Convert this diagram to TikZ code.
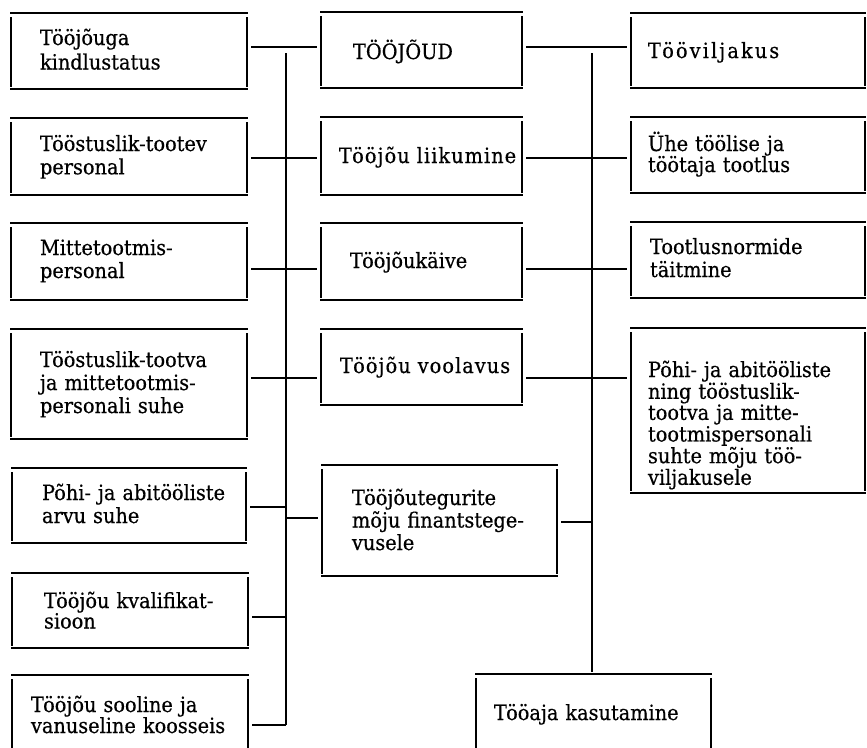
\documentclass[tikz,border=0pt]{standalone}
\usepackage{fontspec}
\setmainfont{DejaVu Serif}[FakeStretch=0.92,WordSpace=1.8,FakeBold=0.5]
\usetikzlibrary{fit}
\tikzset{
  conn/.style={line width=1.3pt, shorten <=4pt, shorten >=4pt},
  bus/.style={line width=1.3pt},
  box/.style={inner sep=0pt, outer sep=0pt, append after command={
     ([xshift=-1pt]\tikzlastnode.north west) edge[line width=#1] ([xshift=1pt]\tikzlastnode.north east)
     ([xshift=-1pt]\tikzlastnode.south west) edge[line width=#1] ([xshift=1pt]\tikzlastnode.south east)
     ([yshift=-4pt]\tikzlastnode.north west) edge[line width=#1] ([yshift=2pt]\tikzlastnode.south west)
     ([yshift=-4pt]\tikzlastnode.north east) edge[line width=#1] ([yshift=2pt]\tikzlastnode.south east)
  }},
  box/.default=1.3pt,
  txt/.style={anchor=base west, inner sep=0pt, outer sep=0pt, text width=220pt, align=left,
     font=\fontsize{21}{#1}\selectfont},
  txt/.default=21,
  spaced/.style={font=\fontsize{21}{21}\selectfont\addfontfeature{LetterSpace=#1}}
}
\begin{document}
\begin{tikzpicture}[x=1pt,y=-1pt]
\useasboundingbox (0,0) rectangle (867,747);
\clip (0,0) rectangle (867,747);
% left column
\node[box, fit={(11,13)(247,89)}] (L1) {};
\node[txt=24.5] (L1t) at (40,45) {Tööjõuga\\kindlustatus};
\node[box, fit={(11,118)(247,195)}] (L2) {};
\node[txt=23.3] (L2t) at (40,151) {Tööstuslik-tootev\\personal};
\node[box, fit={(11,223)(247,300)}] (L3) {};
\node[txt=23] (L3t) at (40,255) {Mittetootmis-\\personal};
\node[box, fit={(11,329)(247,439)}] (L4) {};
\node[txt=23] (L4t) at (40,367) {Tööstuslik-tootva\\ja mittetootmis-\\personali suhe};
\node[box, fit={(12,468)(246,543)}] (L5) {};
\node[txt=23] (L5t) at (42,500) {Põhi- ja abitööliste\\arvu suhe};
\node[box, fit={(12,573)(248,648)}] (L6) {};
\node[txt=20.5] (L6t) at (44,608) {Tööjõu kvalifikat-\\sioon};
\node[box, fit={(12,675)(248,765)}] (L7) {};
\node[txt=21] (L7t) at (31,712) {Tööjõu sooline ja\\vanuseline koosseis};
% middle column
\node[box, fit={(321,12)(522,88)}] (M1) {};
\node[txt] (M1t) at (353,59) {TÖÖJÕUD};
\node[box, fit={(321,117)(522,195)}] (M2) {};
\node[txt, spaced=5] (M2t) at (339,163) {Tööjõu liikumine};
\node[box, fit={(321,223)(522,300)}] (M3) {};
\node[txt] (M3t) at (350,268) {Tööjõukäive};
\node[box, fit={(321,329)(522,405)}] (M4) {};
\node[txt, spaced=5] (M4t) at (340,373) {Tööjõu voolavus};
\node[box, fit={(322,465)(557,576)}] (M5) {};
\node[txt=22.5] (M5t) at (352,505) {Tööjõutegurite\\mõju finantstege-\\vusele};
\node[box, fit={(476,674)(711,765)}] (M6) {};
\node[txt] (M6t) at (494,720) {Tööaja kasutamine};
% right column
\node[box, fit={(631,13)(865,88)}] (R1) {};
\node[txt, spaced=10] (R1t) at (648,58) {Tööviljakus};
\node[box, fit={(631,117)(865,193)}] (R2) {};
\node[txt] (R2t) at (648,151) {Ühe töölise ja\\töötaja tootlus};
\node[box, fit={(631,222)(865,298)}] (R3) {};
\node[txt=23] (R3t) at (650,254) {Tootlusnormide\\täitmine};
\node[box=2.2pt, fit={(631,328)(865,493)}] (R4) {};
\node[txt=20] (R4t) at (648,377) {Põhi- ja abitööliste\\ning tööstuslik-\\tootva ja mitte-\\tootmispersonali\\suhte mõju töö-\\viljakusele};
% buses
\coordinate (bLt) at (286,53);
\coordinate (bLb) at (286,725);
\coordinate (bRt) at (592,53);
\draw[bus] (bLt) -- (bLb);
\draw[bus, shorten >=2pt] (bRt) -- (bRt |- M6.north);
% rows
\coordinate (a1) at (0,47);
\coordinate (a2) at (0,158);
\coordinate (a3) at (0,269);
\coordinate (a4) at (0,378);
\coordinate (a5) at (0,507);
\coordinate (m5l) at (0,518);
\coordinate (m5r) at (0,522);
\coordinate (a6) at (0,617);
\coordinate (a7) at (0,725);
\draw[conn] (L1.east |- a1) -- (M1.west |- a1);
\draw[conn] (M1.east |- a1) -- (R1.west |- a1);
\draw[conn] (L2.east |- a2) -- (M2.west |- a2);
\draw[conn] (M2.east |- a2) -- (R2.west |- a2);
\draw[conn] (L3.east |- a3) -- (M3.west |- a3);
\draw[conn] (M3.east |- a3) -- (R3.west |- a3);
\draw[conn] (L4.east |- a4) -- (M4.west |- a4);
\draw[conn] (M4.east |- a4) -- (R4.west |- a4);
\draw[conn, shorten >=0pt] (L5.east |- a5) -- (bLt |- a5);
\draw[conn, shorten <=0pt] (bLt |- m5l) -- (M5.west |- m5l);
\draw[conn, shorten >=0pt] (M5.east |- m5r) -- (bRt |- m5r);
\draw[conn, shorten >=0pt] (L6.east |- a6) -- (bLt |- a6);
\draw[conn, shorten >=0pt] (L7.east |- a7) -- (bLb);
\end{tikzpicture}
\end{document}
